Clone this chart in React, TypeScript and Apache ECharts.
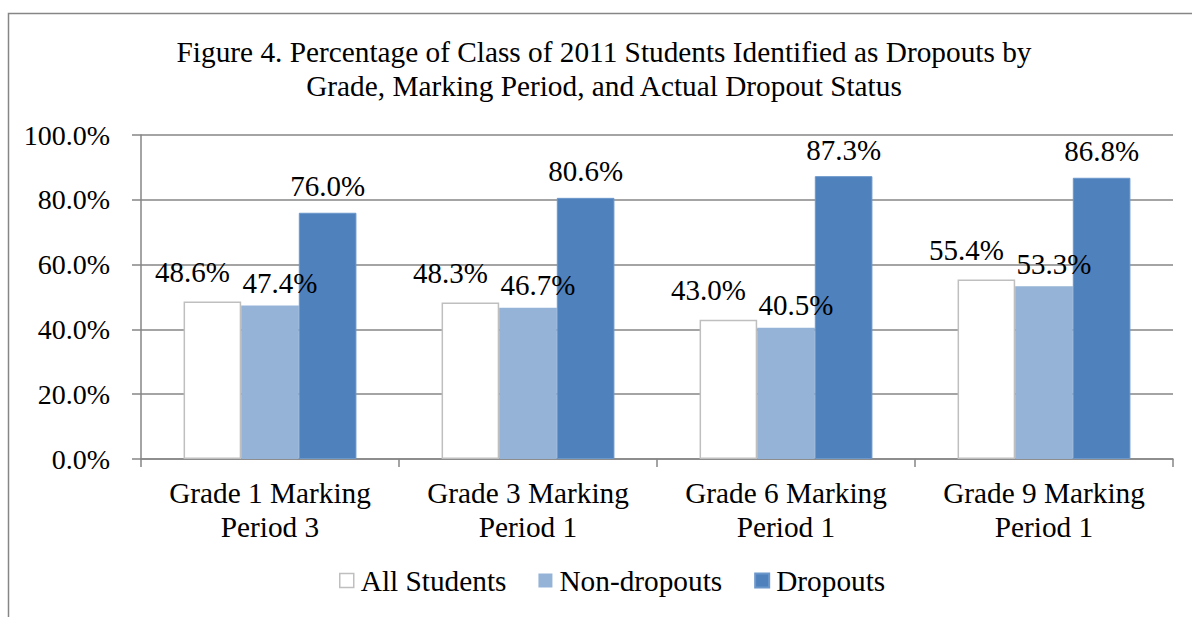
import React, { useEffect, useRef } from "react";
import * as echarts from "echarts";

const categories = ["Grade 1 Marking\nPeriod 3", "Grade 3 Marking\nPeriod 1", "Grade 6 Marking\nPeriod 1", "Grade 9 Marking\nPeriod 1"];
const allStudents = [48.6, 48.3, 43.0, 55.4];
const nonDropouts = [47.4, 46.7, 40.5, 53.3];
const dropouts = [76.0, 80.6, 87.3, 86.8];
const titleLines = [
  "Figure 4. Percentage of Class of 2011 Students Identified as Dropouts by",
  "Grade, Marking Period, and Actual Dropout Status",
];

const FONT = "'Liberation Serif', 'Times New Roman', serif";
const FS = 29.3;
const FS_Y = 28;
const FS_LABEL = 29;

export default function App() {
  const ref = useRef<HTMLDivElement>(null);
  useEffect(() => {
    if (!ref.current) return;
    const chart = echarts.init(ref.current, null, { renderer: "svg" });
    const fmt = (v: number) => v.toFixed(1) + "%";
    const label = (dist: number, offset: number[]) => ({
      show: true,
      position: "top",
      distance: dist,
      offset,
      formatter: (p: any) => fmt(p.value),
      fontFamily: FONT,
      fontSize: FS_LABEL,
      color: "#000",
    });
    chart.setOption({
      animation: false,
      textStyle: { fontFamily: FONT },
      graphic: [
        {
          type: "rect",
          shape: { x: 8.5, y: 13.5, width: 1300, height: 800 },
          style: { fill: "none", stroke: "#868686", lineWidth: 1.5 },
          silent: true,
        },
        {
          type: "text",
          x: 604,
          y: 35,
          silent: true,
          style: {
            text: titleLines.join("\n"),
            align: "center",
            verticalAlign: "top",
            fontFamily: FONT,
            fontSize: FS,
            lineHeight: 34,
            fill: "#000",
          },
        },
      ],
      legend: {
        bottom: 17,
        left: 334,
        itemWidth: 14,
        itemHeight: 14,
        itemGap: 32,
        textStyle: { fontFamily: FONT, fontSize: FS, color: "#000", padding: [0, 0, 0, 2] },
        data: [
          { name: "All Students", icon: "rect", itemStyle: { color: "#fff", borderColor: "#BFBFBF", borderWidth: 1.5 } },
          { name: "Non-dropouts", icon: "rect" },
          { name: "Dropouts", icon: "rect" },
        ],
      },
      grid: { left: 141, right: 19, top: 135, bottom: 158 },
      xAxis: {
        type: "category",
        data: categories,
        axisLine: { lineStyle: { color: "#868686", width: 1.5 } },
        axisTick: { show: true, interval: 0, length: 8, lineStyle: { color: "#868686", width: 1.5 } },
        axisLabel: { interval: 0, fontFamily: FONT, fontSize: FS, color: "#000", lineHeight: 34, margin: 17 },
      },
      yAxis: {
        type: "value",
        min: 0,
        max: 100,
        interval: 20,
        axisLine: { show: true, lineStyle: { color: "#868686", width: 1.5 } },
        axisTick: { show: true, length: 9, lineStyle: { color: "#868686", width: 1.5 } },
        splitLine: { lineStyle: { color: "#868686", width: 1.5 } },
        axisLabel: { fontFamily: FONT, fontSize: FS_Y, color: "#000", margin: 31, formatter: (v: number) => fmt(v) },
      },
      series: [
        {
          name: "All Students",
          type: "bar",
          data: allStudents,
          barGap: "0%",
          barCategoryGap: "33%",
          itemStyle: { color: "#fff", borderColor: "#BFBFBF", borderWidth: 1.5 },
          label: label(15, [-20, 0]),
        },
        {
          name: "Non-dropouts",
          type: "bar",
          data: nonDropouts,
          barGap: "0%",
          barCategoryGap: "33%",
          itemStyle: { color: "#95B3D7" },
          label: label(8, [10, 0]),
        },
        {
          name: "Dropouts",
          type: "bar",
          data: dropouts,
          barGap: "0%",
          barCategoryGap: "33%",
          itemStyle: { color: "#4F81BD", borderColor: "#6B97CB", borderWidth: 1 },
          label: label(12, [0, 0]),
        },
      ],
    });
    return () => chart.dispose();
  }, []);
  return <div ref={ref} style={{ position: "fixed", left: 0, top: 0, width: 1192, height: 617, background: "#fff" }} />;
}
